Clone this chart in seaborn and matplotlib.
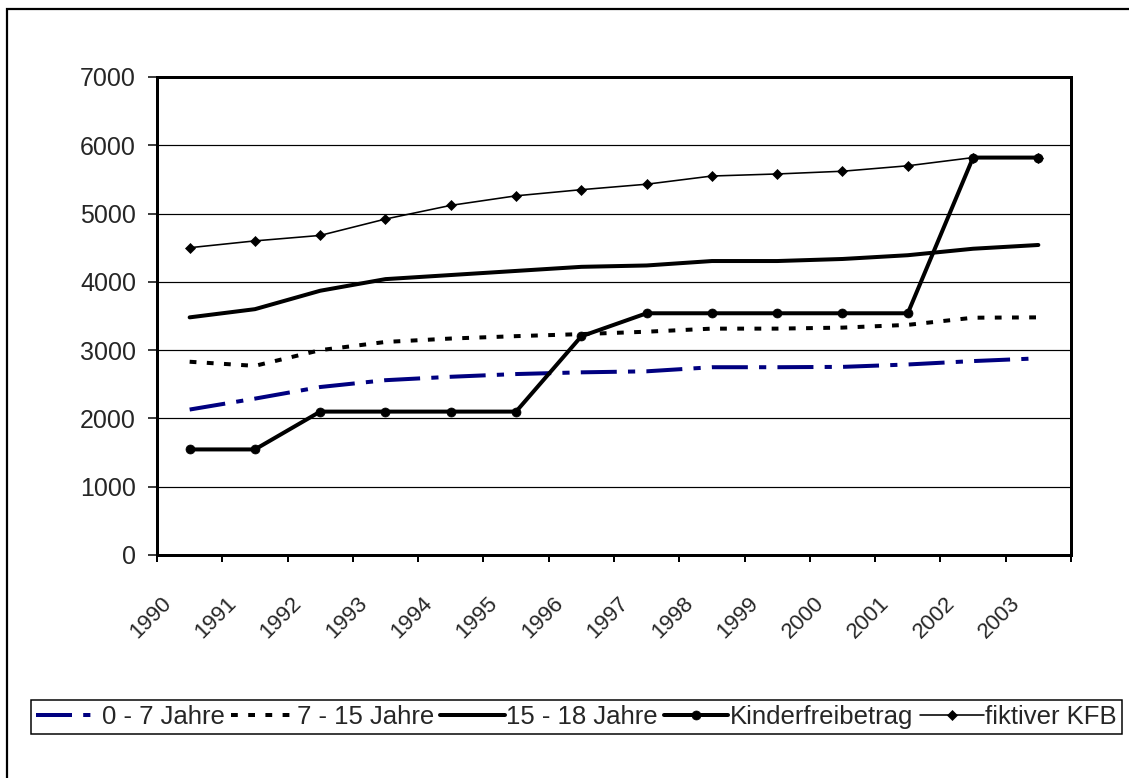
import matplotlib
matplotlib.use("Agg")
import matplotlib.pyplot as plt
from matplotlib.patches import Rectangle
import seaborn as sns

years = [1990, 1991, 1992, 1993, 1994, 1995, 1996, 1997, 1998, 1999, 2000, 2001, 2002, 2003]
year_labels = [str(y) for y in years]
age_0_7 = [2130, 2290, 2460, 2560, 2610, 2650, 2675, 2690, 2750, 2750, 2755, 2790, 2840, 2880]
age_7_15 = [2830, 2770, 3000, 3120, 3170, 3205, 3235, 3270, 3315, 3315, 3330, 3370, 3475, 3480]
age_15_18 = [3480, 3600, 3870, 4040, 4100, 4160, 4220, 4240, 4305, 4305, 4335, 4390, 4485, 4540]
kfb = [1546, 1546, 2100, 2100, 2100, 2100, 3203, 3540, 3540, 3540, 3540, 3540, 5820, 5820]
fkfb = [4500, 4600, 4680, 4920, 5120, 5260, 5350, 5430, 5550, 5580, 5620, 5700, 5820, 5820]
series_names = ["0 - 7 Jahre", "7 - 15 Jahre", "15 - 18 Jahre", "Kinderfreibetrag", "fiktiver KFB"]
y_ticks = [0, 1000, 2000, 3000, 4000, 5000, 6000, 7000]

sns.set_style("white")
plt.rcParams['font.family'] = ['Liberation Sans', 'DejaVu Sans']

W, H = 1129, 778
fig = plt.figure(figsize=(W / 100, H / 100), dpi=100)
fig.patch.set_facecolor("white")

# outer chart border (cropped on right/bottom as in reference)
fig.patches.append(Rectangle((7 / W, -0.2), 1.5, 1 - 9 / H + 0.2, transform=fig.transFigure,
                             fill=False, edgecolor="black", linewidth=1.6))

ax = fig.add_axes([157 / W, 1 - 555 / H, (1071 - 157) / W, (555 - 77) / H])

px = 0.72  # points per pixel

sns.lineplot(x=years, y=age_0_7, ax=ax, color="#000080", linewidth=4 * px, errorbar=None,
             linestyle=(0, (9, 2.8, 1.8, 2.8)), dash_capstyle="butt", label=series_names[0])
sns.lineplot(x=years, y=age_7_15, ax=ax, color="black", linewidth=4 * px, errorbar=None,
             linestyle=(0, (1.7, 2.6)), dash_capstyle="butt", label=series_names[1])
sns.lineplot(x=years, y=age_15_18, ax=ax, color="black", linewidth=4 * px, errorbar=None,
             label=series_names[2])
sns.lineplot(x=years, y=kfb, ax=ax, color="black", linewidth=4 * px, errorbar=None,
             marker="o", markersize=9 * px, markeredgecolor="black", markerfacecolor="black",
             markeredgewidth=0.5, label=series_names[3])
sns.lineplot(x=years, y=fkfb, ax=ax, color="black", linewidth=1.6 * px, errorbar=None,
             marker="D", markersize=7.3 * px, markeredgecolor="black", markerfacecolor="black",
             markeredgewidth=0.5, label=series_names[4])

ax.set_xlim(years[0] - 0.5, years[-1] + 0.5)
ax.set_ylim(0, 7000)
ax.set_yticks(y_ticks)
ax.set_yticklabels([str(v) for v in y_ticks], fontsize=18)
ax.yaxis.grid(True, color="black", linewidth=1.2 * px)
ax.xaxis.grid(False)
ax.set_axisbelow(True)

# category boundary tick marks
bounds = [y - 0.5 for y in years] + [years[-1] + 0.5]
ax.set_xticks(bounds)
ax.set_xticklabels([""] * len(bounds))
# labels near category centers
lab_pos = [y - 0.33 for y in years]
ax.set_xticks(lab_pos, minor=True)
ax.set_xticklabels(year_labels, minor=True, fontsize=16, rotation=45,
                   ha="right", va="center", rotation_mode="anchor",
                   family=['Liberation Sans Narrow', 'Liberation Sans', 'DejaVu Sans'])
ax.tick_params(axis="x", which="major", direction="out", length=7 * px, width=2 * px,
               color="black", bottom=True)
ax.tick_params(axis="x", which="minor", length=0, pad=32.4, bottom=True)
ax.tick_params(axis="y", which="major", direction="out", length=9 * px, width=1.5 * px,
               color="black", left=True, pad=12 * px)

for s in ax.spines.values():
    s.set_visible(True)
    s.set_color("black")
    s.set_linewidth(3 * px)

ax.set_xlabel("")
ax.set_ylabel("")

handles, labels = ax.get_legend_handles_labels()
if ax.legend_:
    ax.legend_.remove()
leg = fig.legend(handles, labels, loc="lower left", ncol=5, mode="expand",
                 bbox_to_anchor=(31 / W, 1 - 734 / H, (1122 - 31) / W, 41 / H),
                 bbox_transform=fig.transFigure, borderaxespad=0, fontsize=18.5,
                 frameon=True, fancybox=False, shadow=False, handlelength=2.5,
                 handletextpad=0.05, borderpad=0.2, columnspacing=0.2)
fr = leg.get_frame()
fr.set_edgecolor("black")
fr.set_linewidth(1.5 * px)
fr.set_alpha(1)

fig.savefig("out.png", dpi=100, facecolor="white")
